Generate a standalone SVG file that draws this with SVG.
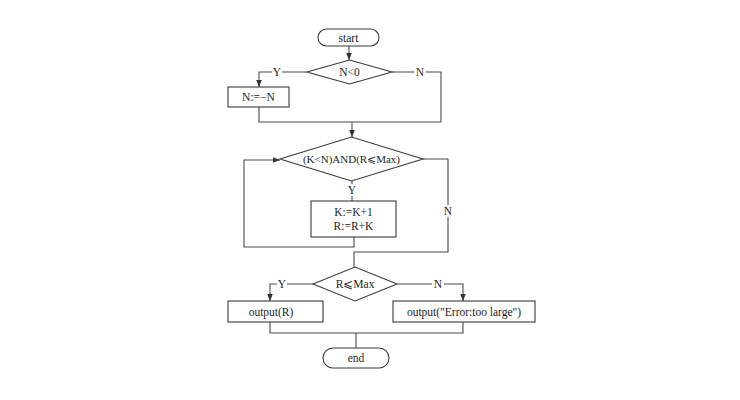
<svg xmlns="http://www.w3.org/2000/svg" width="740" height="400" viewBox="0 0 740 400">
<defs>
<style>
.shape{fill:#fff;stroke:#3a3a3a;stroke-width:1.1}
.ln{fill:none;stroke:#4a4a4a;stroke-width:1.1}
.t{font-family:"Liberation Serif","DejaVu Serif",serif;font-size:11.5px;fill:#1e1e1e;text-anchor:middle}
.s{font-size:11.5px}
.lbl{font-family:"Liberation Serif","DejaVu Serif",serif;font-size:11.5px;fill:#1e1e1e;text-anchor:middle}
.bg{fill:#fff;stroke:none}
</style>
<marker id="ah" viewBox="0 0 10 10" refX="10" refY="5" markerWidth="7" markerHeight="7" orient="auto" markerUnits="userSpaceOnUse">
<path d="M0,1 L10,5 L0,9 z" fill="#333"/>
</marker>
</defs>
<rect width="740" height="400" fill="#fff"/>
<g id="connectors">
<path class="ln" d="M349,46 V60" marker-end="url(#ah)"/>
<path class="ln" d="M307,72 H259 V87" marker-end="url(#ah)"/>
<path class="ln" d="M392,72 H441 V122"/>
<path class="ln" d="M259,107 V122 H441"/>
<path class="ln" d="M352,122 V137" marker-end="url(#ah)"/>
<path class="ln" d="M352,181 V201"/>
<path class="ln" d="M354,237 V247 H244 V160 H280" marker-end="url(#ah)"/>
<path class="ln" d="M423,159 H448 V252 H354 V267"/>
<path class="ln" d="M313,284 H270 V301" marker-end="url(#ah)"/>
<path class="ln" d="M397,284 H463 V301" marker-end="url(#ah)"/>
<path class="ln" d="M270,322 V333 H463 V322"/>
<path class="ln" d="M356,333 V348"/>
<rect class="bg" x="272" y="66" width="10" height="12"/>
<text class="lbl" x="277" y="76">Y</text>
<rect class="bg" x="414" y="66" width="12" height="12"/>
<text class="lbl" x="420" y="76">N</text>
<rect class="bg" x="347" y="184" width="10" height="12"/>
<text class="lbl" x="352" y="194">Y</text>
<rect class="bg" x="442" y="205" width="12" height="12"/>
<text class="lbl" x="448" y="215">N</text>
<rect class="bg" x="277" y="278" width="10" height="12"/>
<text class="lbl" x="282" y="288">Y</text>
<rect class="bg" x="432" y="278" width="12" height="12"/>
<text class="lbl" x="438" y="288">N</text>
</g>
<g id="start">
<rect class="shape" x="318" y="29" width="61" height="17" rx="8.5"/>
<text class="t" x="348.5" y="41.5">start</text>
</g>
<g id="cond1">
<polygon class="shape" points="307,72 349.5,60 392,72 349.5,84"/>
<text class="t" x="349.5" y="76">N&lt;0</text>
</g>
<g id="negate">
<rect class="shape" x="228" y="87" width="61" height="20"/>
<text class="t" x="258.5" y="101">N:=−N</text>
</g>
<g id="cond2">
<polygon class="shape" points="280,159 351.5,137 423,159 351.5,181"/>
<text class="t" x="351.5" y="163" style="font-size:11px">(K&lt;N)AND(R⩽Max)</text>
</g>
<g id="loopbody">
<rect class="shape" x="311" y="201" width="85" height="36"/>
<text class="t" x="353.5" y="216">K:=K+1</text>
<text class="t" x="353.5" y="230">R:=R+K</text>
</g>
<g id="cond3">
<polygon class="shape" points="313,284 355,267 397,284 355,301"/>
<text class="t" x="355" y="288">R⩽Max</text>
</g>
<g id="outR">
<rect class="shape" x="228" y="301" width="95" height="21"/>
<text class="t s" x="271" y="315.5">output(R)</text>
</g>
<g id="outErr">
<rect class="shape" x="393" y="301" width="142" height="21"/>
<text class="t s" x="464" y="315.5">output("Error:too large")</text>
</g>
<g id="end">
<rect class="shape" x="323" y="348" width="66" height="20" rx="10"/>
<text class="t" x="356" y="362">end</text>
</g>
</svg>
